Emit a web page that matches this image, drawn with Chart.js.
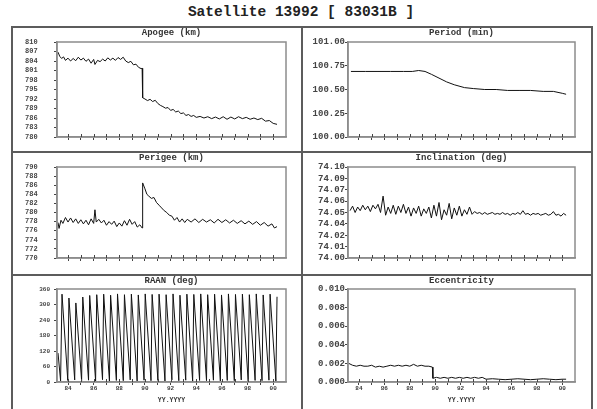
<!DOCTYPE html>
<html>
<head>
<meta charset="utf-8">
<script src="https://cdn.jsdelivr.net/npm/chart.js@4.4.0/dist/chart.umd.min.js"></script>
<style>
  body { margin: 0; background: #fff; }
  #page { position: relative; width: 597px; height: 409px; overflow: hidden; background: #fff; }
  #title { position: absolute; left: 0; top: 4px; width: 602px; text-align: center;
           font: bold 14.5px "Liberation Mono", "DejaVu Sans Mono", monospace; color: #222; }
  .rule { position: absolute; background: #5c5c5c; }
  canvas { position: absolute; }
</style>
</head>
<body>
<div id="page">
  <div id="title">Satellite 13992 [ 83031B ]</div>
  <div class="rule" style="left:11px;top:26px;width:582px;height:2px"></div>
  <div class="rule" style="left:11px;top:26px;width:2px;height:390px"></div>
  <div class="rule" style="left:591px;top:26px;width:2px;height:390px"></div>
  <div class="rule" style="left:301px;top:26px;width:2px;height:390px"></div>
  <div class="rule" style="left:11px;top:151px;width:582px;height:2px"></div>
  <div class="rule" style="left:11px;top:274px;width:582px;height:2px"></div>

  <canvas id="apogee" width="288" height="123" style="left:13px;top:28px"></canvas>
  <canvas id="period" width="288" height="123" style="left:303px;top:28px"></canvas>
  <canvas id="perigee" width="288" height="121" style="left:13px;top:153px"></canvas>
  <canvas id="inclination" width="288" height="121" style="left:303px;top:153px"></canvas>
  <canvas id="raan" width="288" height="133" style="left:13px;top:276px"></canvas>
  <canvas id="ecc" width="288" height="133" style="left:303px;top:276px"></canvas>
</div>

<script>
// ---- data (x = decimal year) ----
const yearTicks = [1984, 1985, 1986, 1987, 1988, 1989, 1990, 1991, 1992, 1993, 1994, 1995, 1996, 1997, 1998, 1999, 2000];
const yearLabels = ["84", "", "86", "", "88", "", "90", "", "92", "", "94", "", "96", "", "98", "", "00"];

const apogeeYears = [1983.22, 1983.35, 1983.5, 1983.65, 1983.8, 1984.0, 1984.2, 1984.4, 1984.6, 1984.8,
  1985.0, 1985.2, 1985.4, 1985.6, 1985.8, 1986.0, 1986.1, 1986.3, 1986.5, 1986.7, 1986.9,
  1987.1, 1987.3, 1987.5, 1987.7, 1987.9, 1988.1, 1988.3, 1988.5, 1988.7, 1988.9,
  1989.1, 1989.3, 1989.5, 1989.7, 1989.78, 1989.82, 1990.0, 1990.2, 1990.4, 1990.6, 1990.8,
  1991.0, 1991.2, 1991.4, 1991.6, 1991.8, 1992.0, 1992.2, 1992.4, 1992.6, 1992.8,
  1993.0, 1993.2, 1993.4, 1993.6, 1993.8, 1994.0, 1994.3, 1994.6, 1994.9, 1995.2, 1995.5, 1995.8,
  1996.1, 1996.4, 1996.7, 1997.0, 1997.3, 1997.6, 1997.9, 1998.2, 1998.5, 1998.8,
  1999.1, 1999.4, 1999.7, 2000.0, 2000.3];
const apogeeKm = [806.8, 805.5, 804.8, 805.3, 804.2, 804.9, 804.0, 804.8, 804.1, 805.2,
  804.3, 804.9, 803.9, 804.6, 803.3, 804.5, 802.9, 804.2, 803.8, 804.6, 804.0,
  805.0, 804.3, 804.9, 804.2, 805.1, 804.5, 805.2, 804.0, 803.5, 803.9,
  802.8, 803.0, 802.0, 801.6, 801.7, 792.4, 792.0, 791.5, 791.9, 791.2, 791.6,
  790.6, 790.0, 789.6, 789.1, 789.3, 788.4, 788.7, 787.9, 788.2, 787.4,
  787.6, 786.8, 787.1, 786.5, 786.8, 786.2, 786.5, 786.0, 786.4, 785.8, 786.3, 785.7,
  786.4, 785.6, 786.3, 785.7, 786.4, 785.8, 786.2, 785.6, 786.0, 785.5,
  785.9, 785.0, 785.2, 784.3, 784.0];
const apogeeTicks = [780, 783, 786, 789, 792, 795, 798, 801, 804, 807, 810];

const periodYears = [1983.37, 1984.5, 1985.5, 1986.5, 1987.5, 1988.2, 1988.7, 1989.2, 1989.7, 1990.3,
  1990.9, 1991.5, 1992.3, 1993.0, 1993.9, 1994.8, 1995.7, 1996.6, 1997.5, 1998.5, 1999.3, 2000.0, 2000.3];
const periodMin = [100.69, 100.69, 100.69, 100.69, 100.69, 100.69, 100.70, 100.69, 100.66, 100.62,
  100.58, 100.55, 100.52, 100.51, 100.50, 100.50, 100.49, 100.49, 100.49, 100.48, 100.48, 100.46, 100.45];
const periodTicks = [100.00, 100.25, 100.50, 100.75, 101.00];

const perigeeYears = [1983.22, 1983.3, 1983.45, 1983.6, 1983.8, 1984.0, 1984.2, 1984.4, 1984.6, 1984.8,
  1985.0, 1985.2, 1985.4, 1985.6, 1985.8, 1986.0, 1986.1, 1986.2, 1986.4, 1986.6, 1986.8,
  1987.0, 1987.2, 1987.4, 1987.6, 1987.8, 1988.0, 1988.2, 1988.4, 1988.6, 1988.8,
  1989.0, 1989.2, 1989.4, 1989.6, 1989.78, 1989.82, 1990.0, 1990.15, 1990.3, 1990.5, 1990.7, 1990.9,
  1991.1, 1991.3, 1991.5, 1991.7, 1991.9, 1992.1, 1992.3, 1992.5, 1992.7, 1992.9,
  1993.1, 1993.3, 1993.6, 1993.9, 1994.2, 1994.5, 1994.8, 1995.1, 1995.4, 1995.7,
  1996.0, 1996.3, 1996.6, 1996.9, 1997.2, 1997.5, 1997.8, 1998.1, 1998.4, 1998.7,
  1999.0, 1999.3, 1999.6, 1999.9, 2000.1, 2000.3];
const perigeeKm = [777.8, 776.5, 778.3, 777.6, 778.9, 777.9, 778.8, 777.8, 778.6, 777.6,
  778.4, 777.5, 778.3, 777.3, 778.6, 777.6, 780.6, 777.9, 778.5, 777.7, 778.3,
  777.2, 778.0, 777.4, 778.1, 776.9, 777.7, 777.0, 778.2, 777.2, 778.5,
  777.4, 778.0, 776.8, 777.3, 776.6, 786.5, 785.2, 784.0, 783.6, 783.1, 783.3, 782.2,
  781.6, 781.0, 780.4, 780.0, 779.4, 779.2, 778.3, 778.9, 777.9, 778.6,
  777.8, 778.5, 777.9, 778.6, 777.8, 778.5, 777.9, 778.4, 777.7, 778.5,
  777.8, 778.4, 777.7, 778.3, 777.6, 778.2, 777.5, 778.1, 777.4, 778.0,
  777.2, 777.8, 777.0, 777.5, 776.6, 776.9];
const perigeeTicks = [770, 772, 774, 776, 778, 780, 782, 784, 786, 788, 790];

const incYears = [1983.3, 1983.5, 1983.7, 1983.9,
  1984.1, 1984.3, 1984.5, 1984.7, 1984.9, 1985.1, 1985.3, 1985.5, 1985.7, 1985.9,
  1986.1, 1986.3, 1986.5, 1986.7, 1986.9, 1987.1, 1987.3, 1987.5, 1987.7, 1987.9,
  1988.1, 1988.3, 1988.5, 1988.7, 1988.9, 1989.1, 1989.3, 1989.5, 1989.7, 1989.9,
  1990.1, 1990.3, 1990.5, 1990.7, 1990.9, 1991.1, 1991.3, 1991.5, 1991.7, 1991.9,
  1992.1, 1992.3, 1992.5, 1992.7, 1992.9, 1993.1, 1993.3, 1993.5, 1993.7, 1993.9,
  1994.1, 1994.3, 1994.5, 1994.7, 1994.9, 1995.1, 1995.3, 1995.5, 1995.7, 1995.9,
  1996.1, 1996.3, 1996.5, 1996.7, 1996.9, 1997.1, 1997.3, 1997.5, 1997.7, 1997.9,
  1998.1, 1998.3, 1998.5, 1998.7, 1998.9, 1999.1, 1999.3, 1999.5, 1999.7, 1999.9,
  2000.1, 2000.3];
const incDeg = [74.052, 74.057, 74.050, 74.056,
  74.052, 74.058, 74.053, 74.057, 74.051, 74.058, 74.054, 74.059, 74.050, 74.068,
  74.047, 74.056, 74.049, 74.058, 74.048, 74.057, 74.050, 74.059, 74.049, 74.056,
  74.046, 74.055, 74.049, 74.057, 74.046, 74.054, 74.049, 74.056, 74.044, 74.058,
  74.046, 74.061, 74.042, 74.053, 74.047, 74.060, 74.043, 74.055, 74.047, 74.057,
  74.046, 74.053, 74.048, 74.056, 74.048, 74.051, 74.049, 74.050, 74.048, 74.050,
  74.048, 74.049, 74.050, 74.048, 74.049, 74.048, 74.050, 74.048, 74.049, 74.047,
  74.049, 74.048, 74.050, 74.048, 74.052, 74.048, 74.049, 74.047, 74.049, 74.048,
  74.049, 74.047, 74.048, 74.049, 74.047, 74.048, 74.051, 74.047, 74.048, 74.046,
  74.049, 74.047];
const incTicks = [74.0, 74.0125, 74.025, 74.0375, 74.05, 74.0625, 74.075, 74.0875, 74.1];
const incTickLabels = ["74.00", "74.01", "74.02", "74.04", "74.05", "74.06", "74.07", "74.09", "74.10"];

const raanYears = [1983.22, 1983.42, 1983.53,
  1983.98, 1984.07, 1984.52, 1984.61, 1985.06, 1985.15, 1985.60, 1985.69, 1986.15, 1986.24,
  1986.69, 1986.78, 1987.23, 1987.32, 1987.77, 1987.86, 1988.31, 1988.40, 1988.85, 1988.94,
  1989.39, 1989.48, 1989.93, 1990.02, 1990.47, 1990.56, 1991.01, 1991.10, 1991.56, 1991.65,
  1992.10, 1992.19, 1992.64, 1992.73, 1993.18, 1993.27, 1993.72, 1993.81, 1994.26, 1994.35,
  1994.80, 1994.89, 1995.34, 1995.43, 1995.88, 1995.97, 1996.42, 1996.51, 1996.97, 1997.06,
  1997.51, 1997.60, 1998.05, 1998.14, 1998.59, 1998.68, 1999.13, 1999.22, 1999.67, 1999.76,
  2000.21, 2000.30];
const raanDeg = [112, 4, 340,
  6, 325, 8, 306, 5, 329, 7, 335, 4, 338,
  9, 340, 3, 336, 6, 341, 5, 338, 8, 340,
  4, 337, 7, 341, 5, 339, 6, 340, 4, 338,
  8, 341, 5, 336, 7, 340, 3, 339, 6, 341,
  5, 338, 7, 340, 4, 337, 6, 341, 5, 339,
  8, 340, 4, 338, 6, 341, 5, 337, 7, 340,
  4, 330];
const raanTicks = [0, 60, 120, 180, 240, 300, 360];

const eccYears = [1983.2, 1983.5, 1983.8, 1984.1, 1984.4, 1984.7, 1985.0, 1985.3, 1985.6, 1985.9,
  1986.2, 1986.5, 1986.8, 1987.1, 1987.4, 1987.7, 1988.0, 1988.3, 1988.6, 1988.9,
  1989.2, 1989.5, 1989.78, 1989.82, 1990.1, 1990.4, 1990.7, 1991.0, 1991.3, 1991.6, 1991.9,
  1992.2, 1992.5, 1992.8, 1993.1, 1993.4, 1993.7, 1994.0, 1994.5, 1995.0, 1995.5,
  1996.0, 1996.5, 1997.0, 1997.5, 1998.0, 1998.5, 1999.0, 1999.5, 2000.0, 2000.3];
const eccValues = [0.0020, 0.0018, 0.0017, 0.0018, 0.0017, 0.0017, 0.0018, 0.0016, 0.0017, 0.0016,
  0.0017, 0.0018, 0.0017, 0.0018, 0.0017, 0.0018, 0.0017, 0.0019, 0.0017, 0.0018,
  0.0017, 0.0017, 0.0016, 0.0004, 0.0005, 0.0004, 0.0005, 0.0004, 0.0005, 0.0004, 0.0005,
  0.0004, 0.0005, 0.0004, 0.0005, 0.0004, 0.0005, 0.0003, 0.00035, 0.0003, 0.00025,
  0.0003, 0.00035, 0.0003, 0.00025, 0.0003, 0.00035, 0.0003, 0.00025, 0.0003, 0.0003];
const eccTicks = [0, 0.002, 0.004, 0.006, 0.008, 0.010];

// ---- drawing ----
const monoFont = "'Liberation Mono', 'DejaVu Sans Mono', monospace";
const xMin = 1983.14, xMax = 2001.0;

// grey box round the plot area + x tick marks poking up into it
const boxPlugin = {
  id: "box",
  afterDraw(chart) {
    const { ctx, chartArea: a } = chart;
    const xs = chart.scales.x;
    ctx.save();
    ctx.strokeStyle = "#8c8c8c";
    ctx.lineWidth = 1.5;
    ctx.strokeRect(a.left, a.top, a.right - a.left, a.bottom - a.top);
    ctx.strokeStyle = "#444";
    ctx.lineWidth = 1;
    xs.ticks.forEach((t) => {
      const px = Math.round(xs.getPixelForValue(t.value)) + 0.5;
      ctx.beginPath();
      ctx.moveTo(px, a.bottom - 3);
      ctx.lineTo(px, a.bottom);
      ctx.stroke();
    });
    ctx.restore();
  }
};

function makePanel(id, p) {
  const points = p.years.map((yr, i) => ({ x: yr, y: p.values[i] }));
  new Chart(document.getElementById(id), {
    type: "line",
    data: { datasets: [{ data: points, borderColor: "#111", borderWidth: 1, pointRadius: 0, tension: 0 }] },
    options: {
      responsive: false,
      animation: false,
      layout: { padding: { left: p.padLeft, right: p.padRight, top: 0, bottom: 0 } },
      plugins: {
        legend: { display: false },
        tooltip: { enabled: false },
        title: {
          display: true, text: p.title, fullSize: false, color: "#333",
          font: { family: monoFont, size: 9, weight: "bold", lineHeight: 1 },
          padding: { top: p.titleTop, bottom: p.plotTop - 9 - p.titleTop }
        }
      },
      scales: {
        x: {
          type: "linear", min: xMin, max: xMax,
          afterBuildTicks: (s) => { s.ticks = yearTicks.map((v) => ({ value: v })); },
          afterFit: (s) => { s.height = p.xHeight; },
          grid: { drawOnChartArea: false, tickLength: 3, color: "#444" },
          border: { display: true, color: "#8c8c8c", width: 1.5 },
          ticks: {
            autoSkip: false, maxRotation: 0, padding: 0, color: "#3a3a3a",
            font: { family: monoFont, size: 6, weight: "bold" },
            callback: (v, i) => (p.xLabels ? yearLabels[i] : "")
          },
          title: {
            display: !!p.xLabels, text: "YY.YYYY", color: "#3a3a3a",
            font: { family: monoFont, size: 6.5, weight: "bold", lineHeight: 1 },
            padding: { top: 0, bottom: 5 }
          }
        },
        y: {
          min: p.ticks[0], max: p.ticks[p.ticks.length - 1],
          afterBuildTicks: (s) => { s.ticks = p.ticks.map((v) => ({ value: v })); },
          afterFit: (s) => { s.width = p.yWidth; },
          grid: { drawOnChartArea: false, tickLength: 3, color: "#444" },
          border: { display: true, color: "#8c8c8c", width: 1.5 },
          ticks: {
            autoSkip: false, padding: p.yPad, crossAlign: p.yAlign, color: "#444",
            font: { family: monoFont, size: p.ySize, weight: "bold" },
            callback: (v, i) => p.fmt(v, i)
          }
        }
      }
    },
    plugins: [boxPlugin]
  });
}

const col1 = { padLeft: 12, yWidth: 32, padRight: 15 };
const col2 = { padLeft: 0, yWidth: 45, padRight: 16 };
const row1 = { plotTop: 14, titleTop: 0.5, xHeight: 14 };
const row2 = { plotTop: 14, titleTop: 0, xHeight: 16 };
const row3 = { plotTop: 13, titleTop: 0, xHeight: 27, xLabels: true };

makePanel("apogee", { ...col1, ...row1, title: "Apogee (km)", years: apogeeYears, values: apogeeKm,
  ticks: apogeeTicks, ySize: 7, yPad: 0, yAlign: "far", fmt: (v) => v.toFixed(0) });
makePanel("period", { ...col2, ...row1, title: "Period (min)", years: periodYears, values: periodMin,
  ticks: periodTicks, ySize: 9, yPad: 0, yAlign: "near", fmt: (v) => v.toFixed(2) });
makePanel("perigee", { ...col1, ...row2, title: "Perigee (km)", years: perigeeYears, values: perigeeKm,
  ticks: perigeeTicks, ySize: 7, yPad: 0, yAlign: "far", fmt: (v) => v.toFixed(0) });
makePanel("inclination", { ...col2, ...row2, title: "Inclination (deg)", years: incYears, values: incDeg,
  ticks: incTicks, ySize: 9, yPad: 0, yAlign: "near", fmt: (v, i) => incTickLabels[i] });
makePanel("raan", { ...col1, ...row3, padLeft: 0, yWidth: 44, title: "RAAN (deg)", years: raanYears, values: raanDeg,
  ticks: raanTicks, ySize: 6, yPad: 4, yAlign: "near", fmt: (v) => v.toFixed(0) });
makePanel("ecc", { ...col2, ...row3, title: "Eccentricity", years: eccYears, values: eccValues,
  ticks: eccTicks, ySize: 9, yPad: 0, yAlign: "near", fmt: (v) => v.toFixed(3) });
</script>
</body>
</html>
